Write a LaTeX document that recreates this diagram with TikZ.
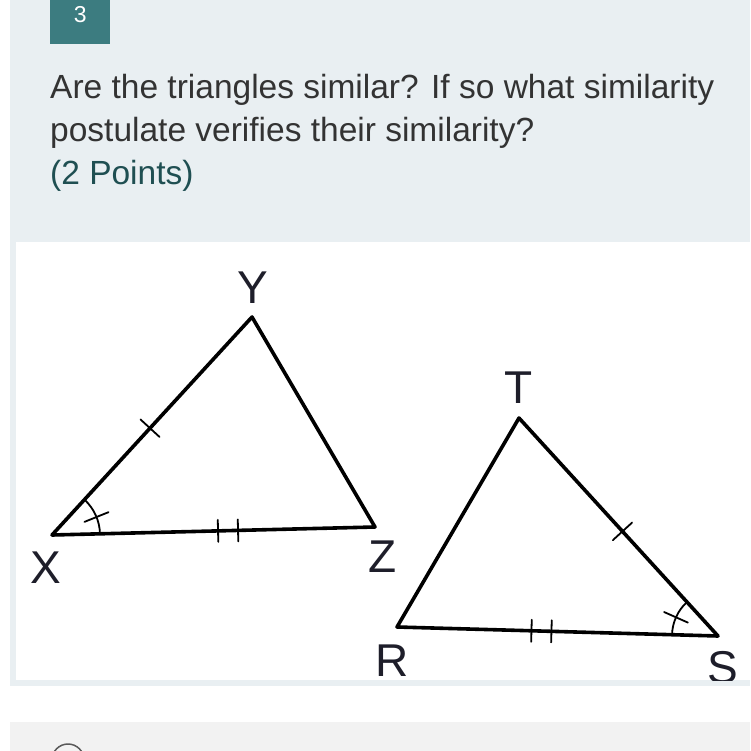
\documentclass[tikz,border=0pt]{standalone}
\usepackage{fontspec}
\setmainfont{Liberation Sans}
\usetikzlibrary{calc,positioning}
\begin{document}
\begin{tikzpicture}[x=1pt,y=-1pt,cap=round]
  % Colors
  \definecolor{panelgrey}{HTML}{E9EFF2}
  \definecolor{answergrey}{HTML}{F2F2F2}
  \definecolor{badgeteal}{HTML}{3C7C80}
  \definecolor{pointsteal}{HTML}{1F4F52}
  \definecolor{textgrey}{HTML}{333333}
  \definecolor{letterink}{HTML}{1E1E2A}

  % Styles
  \tikzstyle{side}=[line width=3.6pt,line join=round]
  \tikzstyle{mark line}=[line width=1.8pt]
  \tikzstyle{vertex}=[font=\fontsize{46}{46}\selectfont,text=letterink,anchor=base,inner sep=0pt]
  \tikzstyle{question}=[font=\fontsize{33.5}{43}\selectfont,text=textgrey,anchor=base west,inner sep=0pt]

  \useasboundingbox (0,0) rectangle (750,751);
  \fill[white] (0,0) rectangle (750,751);

  % Panels
  \fill[panelgrey] (10,0) rectangle (750,686);
  \fill[white] (16,242) rectangle (750,680);
  \fill[answergrey] (10,722) rectangle (750,751);
  \draw[line width=1.5pt,black!65] (68,760) circle (16pt);

  % Header
  \node[fill=badgeteal,minimum width=60pt,minimum height=44pt,inner sep=0pt,anchor=north west] (badge) at (50,0) {};
  \node[font=\fontsize{23}{23}\selectfont,text=white,anchor=base] (num) at ([yshift=-23pt]badge.north) {3};

  \node[question] (line1) at (50,99) {Are the triangles similar? If so what similarity};
  \node[question] (line2) at ([yshift=-43pt]line1.base west) {postulate verifies their similarity?};
  \node[question,text=pointsteal] (points) at ([yshift=-43pt]line2.base west) {(2 Points)};

  % The graphic
  \coordinate (X) at (52,535);
  \coordinate (Y) at (252,317);
  \coordinate (Z) at (375,527);
  \coordinate (R) at (397,627);
  \coordinate (S) at (718,636);
  \coordinate (T) at (519,418);

  \draw[side] (X) -- (Y) -- (Z) -- cycle;
  \draw[side] (R) -- (T) -- (S) -- cycle;

  % single ticks
  \draw[mark line] ($($(X)!.49!(Y)$)!13pt!90:(Y)$) -- ($($(X)!.49!(Y)$)!13pt!-90:(Y)$);
  \draw[mark line] ($($(T)!.52!(S)$)!13pt!90:(S)$) -- ($($(T)!.52!(S)$)!13pt!-90:(S)$);

  % double ticks
  \foreach \a/\b/\p in {X/Z/.545, R/S/.45}
    \foreach \d in {-10pt,10pt} {
      \coordinate (m) at ($(\a)!\p!(\b)$);
      \coordinate (c) at ($(m)!\d!(\b)$);
      \draw[mark line] ($(c)!11pt!90:(\b)$) -- ($(c)!11pt!-90:(\b)$);
    }

  % angle marks
  \draw[mark line] ([shift={(1.4:48pt)}]X) arc[start angle=1.4,end angle=47.5,radius=48pt];
  \draw[mark line] ([shift={(22:35pt)}]X) -- ([shift={(22:61pt)}]X);
  \draw[mark line] ([shift={(132.4:46pt)}]S) arc[start angle=132.4,end angle=178.4,radius=46pt];
  \draw[mark line] ([shift={(156:33pt)}]S) -- ([shift={(156:59pt)}]S);

  % vertex names
  \node[vertex] (labY) at (253,303) {Y};
  \node[vertex] (labX) at (46,583) {X};
  \node[vertex] (labZ) at (383,572) {Z};
  \node[vertex] (labT) at (519,403) {T};
  \node[vertex] (labR) at (392,676) {R};
  \begin{scope}
    \clip (16,242) rectangle (750,680);
    \node[vertex] (labS) at (723,683) {S};
  \end{scope}
\end{tikzpicture}
\end{document}
